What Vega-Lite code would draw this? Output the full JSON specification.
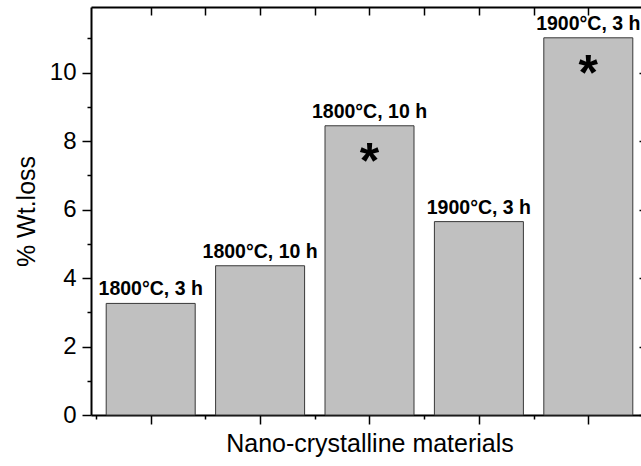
{
  "$schema": "https://vega.github.io/schema/vega-lite/v6.json",
  "width": 557,
  "height": 408,
  "autosize": {"type": "none"},
  "padding": {"left": 91, "top": 7, "right": 0, "bottom": 51},
  "config": {
    "view": {"stroke": null},
    "font": "Liberation Sans",
    "axis": {
      "grid": false,
      "domainColor": "black",
      "domainWidth": 2,
      "tickColor": "black",
      "tickWidth": 1.5,
      "labelFont": "Liberation Sans",
      "titleFont": "Liberation Sans",
      "labelColor": "black",
      "titleColor": "black",
      "titleFontWeight": "normal"
    }
  },
  "data": {
    "values": [
      {"sample": 1, "loss": 3.26, "condition": "1800°C, 3 h", "note": ""},
      {"sample": 2, "loss": 4.36, "condition": "1800°C, 10 h", "note": ""},
      {"sample": 3, "loss": 8.45, "condition": "1800°C, 10 h", "note": "*"},
      {"sample": 4, "loss": 5.65, "condition": "1900°C, 3 h", "note": ""},
      {"sample": 5, "loss": 11.02, "condition": "1900°C, 3 h", "note": "*"}
    ]
  },
  "layer": [
    {
      "mark": {"type": "bar", "width": 89, "fill": "#c0c0c0", "stroke": "#383838", "strokeWidth": 1},
      "encoding": {
        "x": {
          "field": "sample",
          "type": "quantitative",
          "scale": {"domain": [0.5, 5.5], "nice": false, "zero": false},
          "axis": {
            "orient": "bottom",
            "values": [0.5, 1, 1.5, 2, 2.5, 3, 3.5, 4, 4.5, 5, 5.5],
            "labels": false,
            "tickSize": {"condition": {"test": "datum.value % 1 === 0", "value": 9}, "value": 4},
            "title": "Nano-crystalline materials",
            "titleFontSize": 25,
            "titlePadding": 7
          }
        },
        "y": {
          "field": "loss",
          "type": "quantitative",
          "scale": {"domain": [0, 11.92], "nice": false},
          "axis": {
            "orient": "left",
            "values": [0, 1, 2, 3, 4, 5, 6, 7, 8, 9, 10, 11],
            "labelExpr": "datum.value % 2 === 0 ? datum.label : ''",
            "labelFontSize": 24,
            "labelPadding": 6,
            "tickSize": {"condition": {"test": "datum.value % 2 === 0", "value": 9}, "value": 4},
            "title": "% Wt.loss",
            "titleFontSize": 25,
            "titlePadding": 10
          }
        }
      }
    },
    {
      "mark": {"type": "text", "fontWeight": "bold", "fontSize": 19.5, "baseline": "alphabetic", "align": "center", "dy": -8, "color": "black"},
      "encoding": {
        "x": {
          "field": "sample",
          "type": "quantitative",
          "axis": {
            "orient": "top",
            "values": [1, 1.5, 2, 2.5, 3, 3.5, 4, 4.5, 5, 5.5],
            "labels": false,
            "tickSize": -8,
            "title": null
          }
        },
        "y": {
          "field": "loss",
          "type": "quantitative",
          "axis": {
            "orient": "right",
            "values": [0, 1, 2, 3, 4, 5, 6, 7, 8, 9, 10, 11],
            "labels": false,
            "tickSize": {"condition": {"test": "datum.value % 2 === 0", "value": -9}, "value": -4},
            "title": null
          }
        },
        "text": {"field": "condition"}
      }
    },
    {
      "mark": {"type": "text", "fontWeight": "bold", "fontSize": 50, "baseline": "alphabetic", "align": "center", "dy": 52, "color": "black"},
      "encoding": {
        "x": {"field": "sample", "type": "quantitative", "axis": null},
        "y": {"field": "loss", "type": "quantitative", "axis": null},
        "text": {"field": "note"}
      }
    }
  ],
  "resolve": {"axis": {"x": "independent", "y": "independent"}}
}
